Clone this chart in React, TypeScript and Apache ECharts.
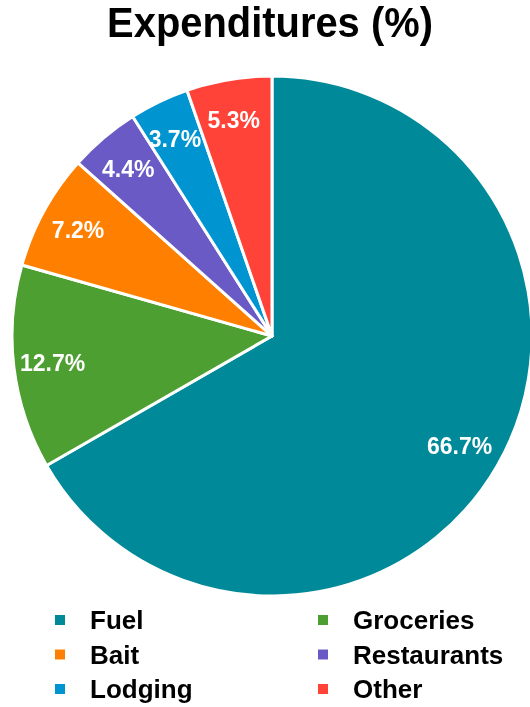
import React, { useEffect, useRef } from "react";
import * as echarts from "echarts";

const categories = ["Fuel", "Groceries", "Bait", "Restaurants", "Lodging", "Other"];
const values = [66.7, 12.7, 7.2, 4.4, 3.7, 5.3];
const colors = ["#008A99", "#4E9F31", "#FF8000", "#6A5AC6", "#0095D1", "#FF4338"];
const legendLeft = ["Fuel", "Bait", "Lodging"];
const legendRight = ["Groceries", "Restaurants", "Other"];
const titleText = "Expenditures (%)";

const FONT = "'Liberation Sans', Arial, sans-serif";

export default function App() {
  const ref = useRef<HTMLDivElement>(null);
  useEffect(() => {
    if (!ref.current) return;
    const chart = echarts.init(ref.current, undefined, { renderer: "svg" });
    const data = categories.map((c, i) => ({ name: c, value: values[i], itemStyle: { color: colors[i] } }));
    const legendCommon = {
      orient: "vertical" as const,
      top: 605,
      padding: 0,
      itemWidth: 12,
      itemHeight: 12,
      itemGap: 4.5,
      icon: "rect",
      textStyle: {
        fontFamily: FONT,
        fontWeight: "bold" as const,
        fontSize: 26,
        lineHeight: 30,
        color: "#000",
        padding: [0, 0, 0, 19],
      },
    };
    chart.setOption({
      animation: false,
      color: colors,
      graphic: [
        {
          type: "text",
          x: 270,
          y: 23,
          scaleX: 0.95,
          style: {
            text: titleText,
            fontFamily: FONT,
            fontWeight: "bold",
            fontSize: 42,
            fill: "#000",
            align: "center",
            verticalAlign: "middle",
          },
        },
      ],
      legend: [
        { ...legendCommon, left: 53, data: legendLeft },
        { ...legendCommon, left: 316, data: legendRight },
      ],
      series: [
        {
          type: "pie",
          center: [272, 336],
          radius: [0, 260],
          startAngle: 90,
          clockwise: true,
          data,
          label: { show: false },
          labelLine: { show: false },
          itemStyle: { borderColor: "#fff", borderWidth: 3 },
          emphasis: { disabled: true },
        },
        {
          type: "pie",
          center: [270, 336],
          radius: [172, 260],
          startAngle: 90,
          clockwise: true,
          silent: true,
          legendHoverLink: false,
          data: categories.map((c, i) => ({ name: c, value: values[i] })),
          itemStyle: { color: "rgba(0,0,0,0)", borderWidth: 0 },
          label: {
            show: true,
            position: "inside",
            formatter: (p: any) => p.value.toFixed(1) + "%",
            fontFamily: FONT,
            fontWeight: "bold",
            fontSize: 23,
            color: "#fff",
          },
          labelLayout: { hideOverlap: false },
          labelLine: { show: false },
          emphasis: { disabled: true },
        },
      ],
    });
    return () => chart.dispose();
  }, []);
  return <div ref={ref} style={{ position: "fixed", left: 0, top: 0, width: 530, height: 707 }} />;
}
